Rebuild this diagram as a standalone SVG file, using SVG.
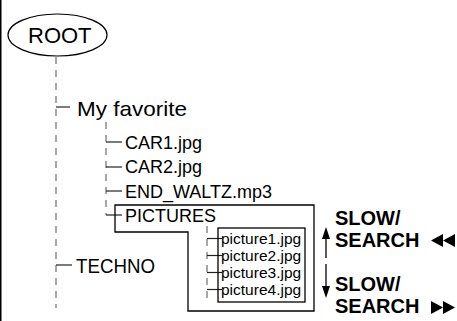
<svg xmlns="http://www.w3.org/2000/svg" width="457" height="321" viewBox="0 0 457 321">
<defs>
<style>
.t{font-family:"Liberation Sans",Arial,Helvetica,sans-serif;fill:#000}
.b{font-family:"Liberation Sans",Arial,Helvetica,sans-serif;font-weight:bold;fill:#000;font-size:20px}
.dash{stroke:#8a8a8a;stroke-width:1.5;stroke-dasharray:7 6;fill:none}
.tick{stroke:#222;stroke-width:1.2;fill:none}
.box{stroke:#000;stroke-width:1.3;fill:none}
.arr{stroke:#000;stroke-width:1.3;fill:none}
</style>
</defs>
<rect width="457" height="321" fill="#fff"/>
<line x1="0.75" y1="0" x2="0.75" y2="321" stroke="#000" stroke-width="1.5"/>
<g id="connectors">
<line class="dash" x1="56" y1="57" x2="56" y2="308"/>
<line class="dash" x1="106" y1="122" x2="106" y2="215"/>
<line class="dash" x1="207" y1="226" x2="207" y2="300"/>
<line class="tick" x1="56" y1="107" x2="70" y2="107"/>
<line class="tick" x1="106" y1="142" x2="122" y2="142"/>
<line class="tick" x1="106" y1="167" x2="122" y2="167"/>
<line class="tick" x1="106" y1="191" x2="122" y2="191"/>
<line class="tick" x1="106" y1="215" x2="122" y2="215"/>
<line class="tick" x1="56" y1="265" x2="72" y2="265"/>
<line class="tick" x1="207" y1="238.5" x2="222" y2="238.5"/>
<line class="tick" x1="207" y1="255.5" x2="222" y2="255.5"/>
<line class="tick" x1="207" y1="272.5" x2="222" y2="272.5"/>
<line class="tick" x1="207" y1="289.5" x2="222" y2="289.5"/>
</g>
<g id="root">
<ellipse cx="57.5" cy="35" rx="49.5" ry="21" fill="#fff" stroke="#000" stroke-width="1.2"/>
<text class="t" x="28" y="43" font-size="22">ROOT</text>
</g>
<g id="my-favorite">
<text class="t" x="77" y="116" font-size="21" textLength="110" lengthAdjust="spacingAndGlyphs">My favorite</text>
</g>
<g id="car1"><text class="t" x="125" y="149" font-size="18">CAR1.jpg</text></g>
<g id="car2"><text class="t" x="125" y="173" font-size="18">CAR2.jpg</text></g>
<g id="end-waltz"><text class="t" x="125" y="198" font-size="18">END_WALTZ.mp3</text></g>
<g id="pictures-outline">
<path class="box" d="M115,205 H314 V311 H188 V232 H115 Z"/>
</g>
<g id="pictures"><text class="t" x="125" y="222" font-size="18">PICTURES</text></g>
<g id="techno"><text class="t" x="76" y="273" font-size="21" textLength="79" lengthAdjust="spacingAndGlyphs">TECHNO</text></g>
<g id="picture-list">
<rect class="box" x="218" y="228" width="87" height="74"/>
<text class="t" x="221" y="244" font-size="15.5">picture1.jpg</text>
<text class="t" x="221" y="261" font-size="15.5">picture2.jpg</text>
<text class="t" x="221" y="278" font-size="15.5">picture3.jpg</text>
<text class="t" x="221" y="295" font-size="15.5">picture4.jpg</text>
</g>
<g id="slow-search-back">
<line class="arr" x1="326" y1="258" x2="326" y2="236"/>
<polygon points="326,227 322,239 330,239" fill="#000"/>
<text class="b" x="335" y="225">SLOW/</text>
<text class="b" x="335" y="247">SEARCH</text>
<polygon points="431,240.5 443,234 443,247" fill="#000"/>
<polygon points="443,240.5 455,234 455,247" fill="#000"/>
</g>
<g id="slow-search-fwd">
<line class="arr" x1="326" y1="264" x2="326" y2="288"/>
<polygon points="326,298 322,286 330,286" fill="#000"/>
<text class="b" x="335" y="291">SLOW/</text>
<text class="b" x="335" y="313">SEARCH</text>
<polygon points="431,301 431,314 443,307.5" fill="#000"/>
<polygon points="443,301 443,314 455,307.5" fill="#000"/>
</g>
</svg>
